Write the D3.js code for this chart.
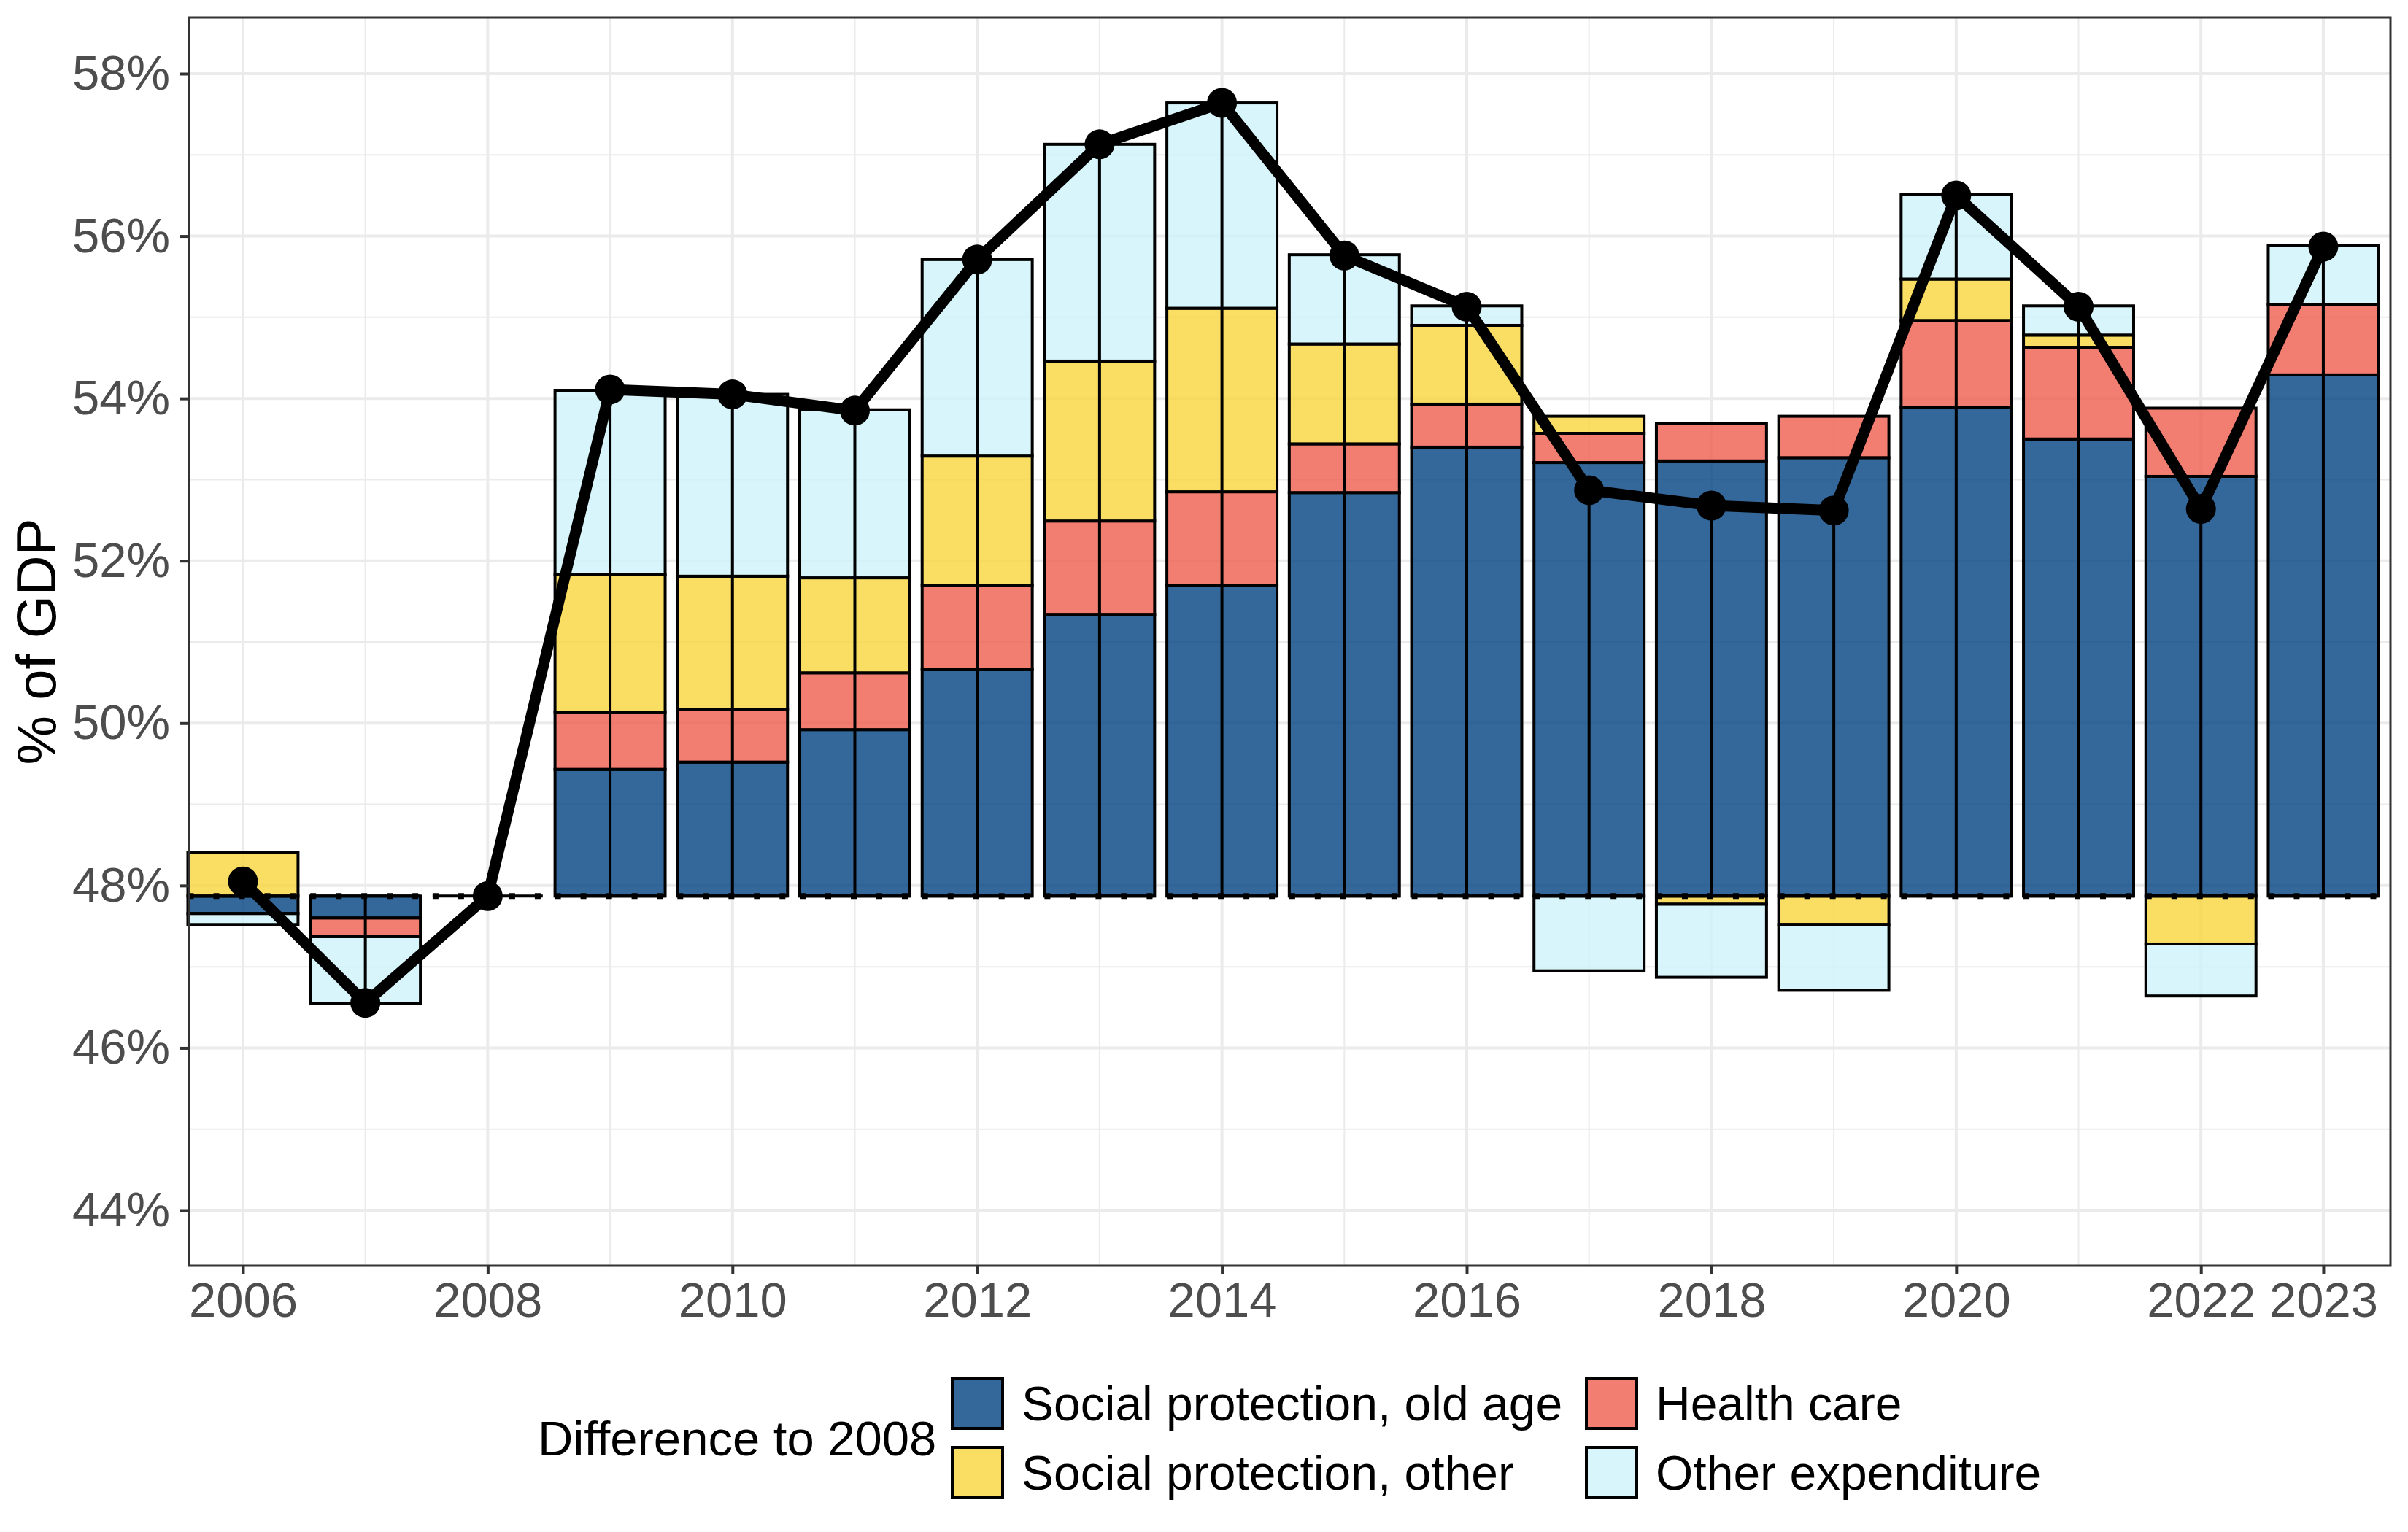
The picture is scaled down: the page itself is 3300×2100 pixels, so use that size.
<!DOCTYPE html>
<html>
<head>
<meta charset="utf-8">
<script src="https://cdn.jsdelivr.net/npm/d3@7"></script>
<style>
  html, body { margin: 0; padding: 0; background: #fff; }
  svg { display: block; font-family: "Liberation Sans", Arial, Helvetica, sans-serif; }
</style>
</head>
<body>
<script>
// ---------------- data ----------------
const years = [2006, 2007, 2008, 2009, 2010, 2011, 2012, 2013, 2014, 2015, 2016, 2017, 2018, 2019, 2020, 2021, 2022, 2023];
const baseline = 47.87; // 2008 level, % of GDP
const oldAge      = [-0.215, -0.27, 0, 1.56, 1.65, 2.05, 2.79, 3.47, 3.83, 4.97, 5.53, 5.34, 5.36, 5.40, 6.02, 5.63, 5.17, 6.42];
const healthCare  = [0, -0.23, 0, 0.70, 0.65, 0.70, 1.04, 1.15, 1.15, 0.60, 0.53, 0.36, 0.46, 0.51, 1.07, 1.13, 0.84, 0.87];
const socialOther = [0.54, 0, 0, 1.70, 1.64, 1.17, 1.59, 1.97, 2.26, 1.23, 0.97, 0.21, -0.10, -0.35, 0.51, 0.15, -0.59, 0];
const otherExp    = [-0.135, -0.82, 0, 2.27, 2.24, 2.07, 2.42, 2.67, 2.53, 1.10, 0.24, -0.92, -0.90, -0.81, 1.04, 0.36, -0.64, 0.72];
const totalSpend  = [48.05, 46.555, 47.87, 54.11, 54.05, 53.85, 55.71, 57.13, 57.64, 55.76, 55.13, 52.87, 52.68, 52.62, 56.50, 55.13, 52.64, 55.87];

const seriesKeys   = ["oldAge", "health", "socialOther", "other"];
const seriesLabels = ["Social protection, old age", "Health care", "Social protection, other", "Other expenditure"];
const seriesColors = ["#014281", "#EF5E4F", "#F9D63D", "#CDF3F9"];
const xTickYears = [2006, 2008, 2010, 2012, 2014, 2016, 2018, 2020, 2022, 2023];
const yTicks = [44, 46, 48, 50, 52, 54, 56, 58];
const legendTitle = "Difference to 2008";
const yTitle = "% of GDP";

// ---------------- layout ----------------
const W = 3300, H = 2100;
const panel = { left: 259, right: 3276, top: 24, bottom: 1735 };

const x = d3.scaleLinear().domain([2005.559, 2023.549]).range([panel.left, panel.right]);
const y = d3.scaleLinear().domain([44, 58]).range([1659, 101]);
const yTop = y.invert(panel.top), yBot = y.invert(panel.bottom);
y.domain([yBot, yTop]).range([panel.bottom, panel.top]);

const barW = 0.9 * (x(2007) - x(2006));

const svg = d3.select("body").append("svg").attr("width", W).attr("height", H);

// panel background + grid
const g = svg.append("g");
g.append("rect").attr("x", panel.left).attr("y", panel.top)
  .attr("width", panel.right - panel.left).attr("height", panel.bottom - panel.top).attr("fill", "#fff");

const minorY = d3.range(43, 59, 2).filter(v => v > yBot && v < yTop);
const minorX = d3.range(2007, 2022, 2);
g.selectAll(".gminy").data(minorY).join("line")
  .attr("x1", panel.left).attr("x2", panel.right).attr("y1", d => y(d)).attr("y2", d => y(d))
  .attr("stroke", "#EBEBEB").attr("stroke-width", 2);
g.selectAll(".gminx").data(minorX).join("line")
  .attr("y1", panel.top).attr("y2", panel.bottom).attr("x1", d => x(d)).attr("x2", d => x(d))
  .attr("stroke", "#EBEBEB").attr("stroke-width", 2);
g.selectAll(".gmajy").data(yTicks).join("line")
  .attr("x1", panel.left).attr("x2", panel.right).attr("y1", d => y(d)).attr("y2", d => y(d))
  .attr("stroke", "#EBEBEB").attr("stroke-width", 4);
g.selectAll(".gmajx").data(xTickYears).join("line")
  .attr("y1", panel.top).attr("y2", panel.bottom).attr("x1", d => x(d)).attr("x2", d => x(d))
  .attr("stroke", "#EBEBEB").attr("stroke-width", 4);

// stacked bars (diverging from baseline)
const rows = years.map((yr, i) => ({
  year: yr, oldAge: oldAge[i], health: healthCare[i], socialOther: socialOther[i], other: otherExp[i]
}));
const stacked = d3.stack().keys(seriesKeys).offset(d3.stackOffsetDiverging)(rows);

const barG = svg.append("g");
stacked.forEach((layer, li) => {
  barG.selectAll(null).data(layer.filter(d => Math.abs(d[1] - d[0]) > 1e-9)).join("rect")
    .attr("x", d => x(d.data.year) - barW / 2)
    .attr("width", barW)
    .attr("y", d => y(baseline + Math.max(d[0], d[1])))
    .attr("height", d => Math.abs(y(baseline + d[0]) - y(baseline + d[1])))
    .attr("fill", seriesColors[li]).attr("fill-opacity", 0.8)
    .attr("stroke", "#000").attr("stroke-width", 4);
});

// vertical segment from baseline to total
svg.append("g").selectAll("line").data(years).join("line")
  .attr("x1", d => x(d)).attr("x2", d => x(d))
  .attr("y1", y(baseline)).attr("y2", (d, i) => y(totalSpend[i]))
  .attr("stroke", "#000").attr("stroke-width", 4);

// dashed baseline per year
const baseG = svg.append("g");
baseG.selectAll(".solid").data(years).join("line")
  .attr("x1", d => x(d) - barW / 2).attr("x2", d => x(d) + barW / 2)
  .attr("y1", y(baseline)).attr("y2", y(baseline))
  .attr("stroke", "#000").attr("stroke-width", 4);
baseG.selectAll(".dash").data(years).join("line")
  .attr("x1", d => x(d) - barW / 2).attr("x2", d => x(d) + barW / 2)
  .attr("y1", y(baseline)).attr("y2", y(baseline))
  .attr("stroke", "#000").attr("stroke-width", 8).attr("stroke-dasharray", "8 27");

// total line + points
const line = d3.line().x((d, i) => x(years[i])).y(d => y(d));
svg.append("path").datum(totalSpend).attr("d", line)
  .attr("fill", "none").attr("stroke", "#000").attr("stroke-width", 15).attr("stroke-linejoin", "round");
svg.append("g").selectAll("circle").data(totalSpend).join("circle")
  .attr("cx", (d, i) => x(years[i])).attr("cy", d => y(d)).attr("r", 20.5).attr("fill", "#000");

// panel border
svg.append("rect").attr("x", panel.left).attr("y", panel.top)
  .attr("width", panel.right - panel.left).attr("height", panel.bottom - panel.top)
  .attr("fill", "none").attr("stroke", "#333").attr("stroke-width", 3);

// axes
const yAxis = d3.axisLeft(y).tickValues(yTicks).tickFormat(d => d + "%").tickSize(12).tickPadding(14);
const ya = svg.append("g").attr("transform", `translate(${panel.left},0)`).call(yAxis);
ya.select(".domain").remove();
ya.selectAll(".tick line").attr("stroke", "#333").attr("stroke-width", 4);
ya.selectAll(".tick text").attr("fill", "#4D4D4D").attr("font-size", 67)
  .attr("font-family", "'Liberation Sans', Arial, sans-serif");

const xAxis = d3.axisBottom(x).tickValues(xTickYears).tickFormat(d3.format("d")).tickSize(12).tickPadding(10);
const xa = svg.append("g").attr("transform", `translate(0,${panel.bottom})`).call(xAxis);
xa.select(".domain").remove();
xa.selectAll(".tick line").attr("stroke", "#333").attr("stroke-width", 4);
xa.selectAll(".tick text").attr("fill", "#4D4D4D").attr("font-size", 67)
  .attr("font-family", "'Liberation Sans', Arial, sans-serif");

// y title
svg.append("text")
  .attr("transform", `translate(76,${(panel.top + panel.bottom) / 2}) rotate(-90)`)
  .attr("text-anchor", "middle").attr("font-size", 76).attr("fill", "#000").text(yTitle);

// legend
const leg = svg.append("g");
leg.append("text").attr("x", 737).attr("y", 1972).attr("dy", "0.35em")
  .attr("font-size", 67).attr("fill", "#000").text(legendTitle);
const legPos = [
  { kx: 1305, ky: 1889 }, // old age
  { kx: 2174, ky: 1889 }, // health
  { kx: 1305, ky: 1984 }, // social other
  { kx: 2174, ky: 1984 }  // other
];
seriesKeys.forEach((k, i) => {
  const p = legPos[i];
  leg.append("rect").attr("x", p.kx).attr("y", p.ky).attr("width", 69).attr("height", 69)
    .attr("fill", seriesColors[i]).attr("fill-opacity", 0.8).attr("stroke", "#000").attr("stroke-width", 4);
  leg.append("text").attr("x", p.kx + 95).attr("y", p.ky + 34.5).attr("dy", "0.35em")
    .attr("font-size", 66).attr("fill", "#000").text(seriesLabels[i]);
});
</script>
</body>
</html>
